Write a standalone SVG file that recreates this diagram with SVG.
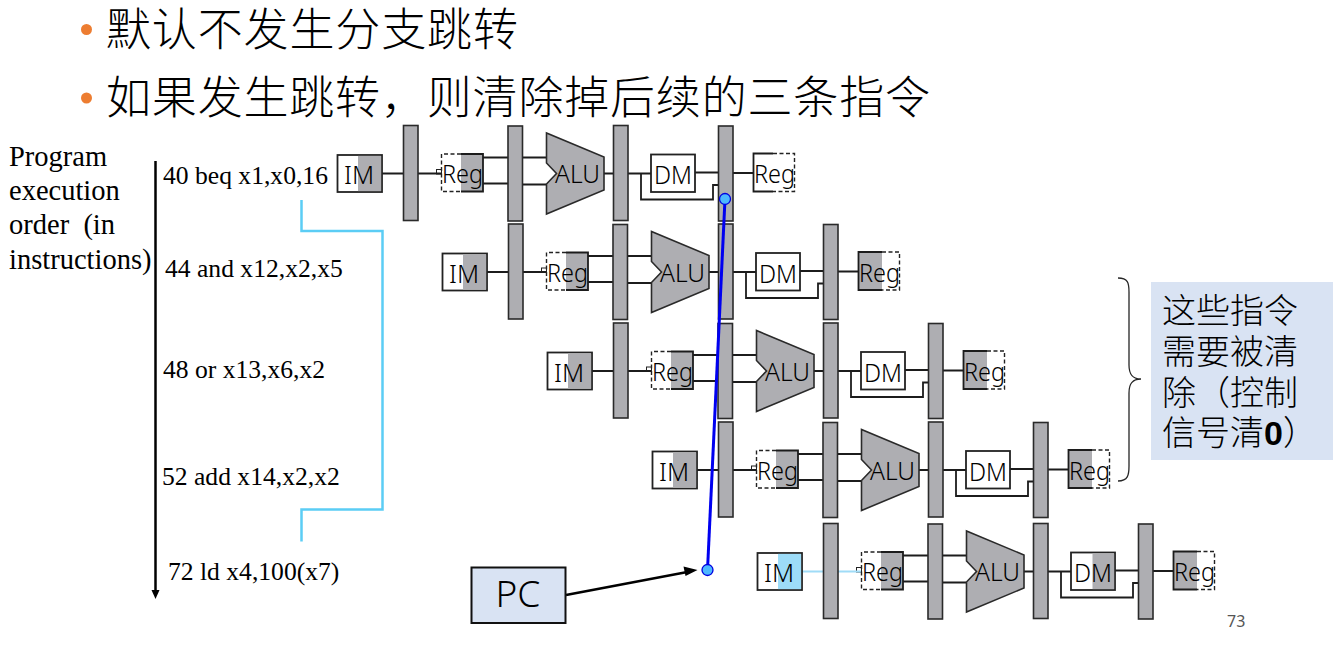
<svg xmlns="http://www.w3.org/2000/svg" width="1333" height="646" viewBox="0 0 1333 646">
<style>
.b{fill:#fff;stroke:#222;stroke-width:1.800}
.g{fill:#aeaeb2}
.lat{fill:#aeaeb2;stroke:#2a2a2a;stroke-width:1.600}
.alu{fill:#aeaeb2;stroke:#2a2a2a;stroke-width:1.600}
.d{fill:none;stroke:#222;stroke-width:1.400;stroke-dasharray:4 2.500}
.w{fill:none;stroke:#1c1c1c;stroke-width:1.800}
.lb{font-family:"Noto Sans","Liberation Sans",sans-serif;font-size:26px;font-weight:300;fill:#000}
.s{font-family:"Liberation Serif",serif;fill:#000}
.i{font-size:25.600px}
.o{font-size:28.500px}
.cn{font-family:"Noto Sans CJK SC",serif;font-size:45px;fill:#000;font-weight:300}
.cb{font-family:"Noto Sans CJK SC",sans-serif;font-size:34px;fill:#000;font-weight:300}
</style>
<defs>
<path id="ifw" class="w" d="M382 173.500H403M418 173.500H441"/>
<g id="wires">
<path class="w" d="M483 157.500H508M522 157.500H546M483 183.500H508M522 184.500H546M604 173.500H614M628 173.500H651M695 172.500H719M641 173.500V199.500H713V185H719M733 173H753"/>
<rect x="436.500" y="169.500" width="5" height="4.500" fill="#fff" stroke="#222" stroke-width="1"/>
</g>
<g id="lat1"><rect class="lat" x="403.500" y="125.500" width="14.500" height="95"/></g>
<g id="lat2"><rect class="lat" x="508" y="126" width="14.500" height="95"/></g>
<g id="lat3"><rect class="lat" x="613.500" y="125.500" width="14.500" height="95"/></g>
<g id="lat4"><rect class="lat" x="718.500" y="126" width="14.500" height="95"/></g>
<g id="aluShape"><path class="alu" d="M546.500 133V163L556.500 173.500L546.500 184V214L604 190V157Z"/><text class="lb" x="555" y="183" textLength="45" lengthAdjust="spacingAndGlyphs">ALU</text></g>
</defs>

<g id="title">
<circle cx="86.500" cy="29.500" r="5.500" fill="#ed7d31"/>
<text class="cn" x="106" y="46" textLength="412">默认不发生分支跳转</text>
<circle cx="86.500" cy="98" r="5.500" fill="#ed7d31"/>
<text class="cn" x="106" y="114" textLength="824">如果发生跳转，则清除掉后续的三条指令</text>
</g>

<g id="order-label" class="s o">
<text x="9" y="166">Program</text>
<text x="9" y="200">execution</text>
<text x="9" y="234" xml:space="preserve">order  (in</text>
<text x="9" y="269">instructions)</text>
</g>

<g id="connectors">
<line x1="155.500" y1="161" x2="155.500" y2="592" stroke="#000" stroke-width="2.500"/>
<path d="M151.500 590H159.500L155.500 599Z" fill="#000"/>
<path d="M301.500 200V231H382.500V509.500H301.500V541.500" fill="none" stroke="#5bcdf5" stroke-width="2.500"/>
<line x1="566" y1="595" x2="690" y2="571.500" stroke="#000" stroke-width="2.500"/>
<path d="M697.500 570L683.500 566.500L685.500 576Z" fill="#000"/>
<path d="M1118 278C1128 278 1129 283 1129 292V365C1129 374 1132 379 1141 379C1132 379 1129 384 1129 393V466C1129 475 1128 481 1118 481" fill="none" stroke="#262626" stroke-width="1.300"/>
</g>

<g id="instr-1"><text class="s i" x="163" y="184">40 beq x1,x0,16</text></g>
<g id="instr-2"><text class="s i" x="165" y="277">44 and x12,x2,x5</text></g>
<g id="instr-3"><text class="s i" x="163" y="378">48 or x13,x6,x2</text></g>
<g id="instr-4"><text class="s i" x="162" y="485">52 add x14,x2,x2</text></g>
<g id="instr-5"><text class="s i" x="168" y="580">72 ld x4,100(x7)</text></g>

<g id="row1">
<use href="#wires"/><use href="#ifw"/>
<g id="r1-im"><rect class="b" x="337.500" y="155" width="44.500" height="37"/><rect class="g" x="358" y="155.900" width="23.100" height="35.200"/><text class="lb" x="344" y="184" textLength="30" lengthAdjust="spacingAndGlyphs">IM</text></g>
<use href="#lat1"/>
<g id="r1-reg"><rect class="g" x="461" y="154" width="22" height="37.500"/><path class="w" d="M461 154H483V191.500H461"/><path class="d" d="M461 154H441.500V191.500H461"/><text class="lb" x="442" y="183" textLength="41" lengthAdjust="spacingAndGlyphs">Reg</text></g>
<use href="#lat2"/>
<use href="#aluShape"/>
<use href="#lat3"/>
<g id="r1-dm"><rect class="b" x="651" y="154.500" width="44" height="37.500"/><text class="lb" x="654" y="184" textLength="38" lengthAdjust="spacingAndGlyphs">DM</text></g>
<use href="#lat4"/>
<g id="r1-wb"><path class="w" d="M773 153.500H753.500V191.500H773"/><path class="d" d="M773 153.500H794.500V191.500H773"/><text class="lb" x="754" y="183" textLength="41" lengthAdjust="spacingAndGlyphs">Reg</text></g>
</g>

<g id="row2" transform="translate(105,98.500)">
<use href="#wires"/><use href="#ifw"/>
<g id="r2-im"><rect class="b" x="337.500" y="155" width="44.500" height="37"/><rect class="g" x="358" y="155.900" width="23.100" height="35.200"/><text class="lb" x="344" y="184" textLength="30" lengthAdjust="spacingAndGlyphs">IM</text></g>
<use href="#lat1"/>
<g id="r2-reg"><rect class="g" x="461" y="154" width="22" height="37.500"/><path class="w" d="M461 154H483V191.500H461"/><path class="d" d="M461 154H441.500V191.500H461"/><text class="lb" x="442" y="183" textLength="41" lengthAdjust="spacingAndGlyphs">Reg</text></g>
<use href="#lat2"/>
<use href="#aluShape"/>
<use href="#lat3"/>
<g id="r2-dm"><rect class="b" x="651" y="154.500" width="44" height="37.500"/><text class="lb" x="654" y="184" textLength="38" lengthAdjust="spacingAndGlyphs">DM</text></g>
<use href="#lat4"/>
<g id="r2-wb"><rect class="g" x="753.500" y="153.500" width="23.500" height="38"/><path class="w" d="M777 153.500H753.500V191.500H777"/><path class="d" d="M777 153.500H794.500V191.500H777"/><text class="lb" x="754" y="183" textLength="41" lengthAdjust="spacingAndGlyphs">Reg</text></g>
</g>

<g id="row3" transform="translate(210,197.500)">
<use href="#wires"/><use href="#ifw"/>
<g id="r3-im"><rect class="b" x="337.500" y="155" width="44.500" height="37"/><rect class="g" x="358" y="155.900" width="23.100" height="35.200"/><text class="lb" x="344" y="184" textLength="30" lengthAdjust="spacingAndGlyphs">IM</text></g>
<use href="#lat1"/>
<g id="r3-reg"><rect class="g" x="461" y="154" width="22" height="37.500"/><path class="w" d="M461 154H483V191.500H461"/><path class="d" d="M461 154H441.500V191.500H461"/><text class="lb" x="442" y="183" textLength="41" lengthAdjust="spacingAndGlyphs">Reg</text></g>
<use href="#lat2"/>
<use href="#aluShape"/>
<use href="#lat3"/>
<g id="r3-dm"><rect class="b" x="651" y="154.500" width="44" height="37.500"/><text class="lb" x="654" y="184" textLength="38" lengthAdjust="spacingAndGlyphs">DM</text></g>
<use href="#lat4"/>
<g id="r3-wb"><rect class="g" x="753.500" y="153.500" width="23.500" height="38"/><path class="w" d="M777 153.500H753.500V191.500H777"/><path class="d" d="M777 153.500H794.500V191.500H777"/><text class="lb" x="754" y="183" textLength="41" lengthAdjust="spacingAndGlyphs">Reg</text></g>
</g>

<g id="row4" transform="translate(315,296.500)">
<use href="#wires"/><use href="#ifw"/>
<g id="r4-im"><rect class="b" x="337.500" y="155" width="44.500" height="37"/><rect class="g" x="358" y="155.900" width="23.100" height="35.200"/><text class="lb" x="344" y="184" textLength="30" lengthAdjust="spacingAndGlyphs">IM</text></g>
<use href="#lat1"/>
<g id="r4-reg"><rect class="g" x="461" y="154" width="22" height="37.500"/><path class="w" d="M461 154H483V191.500H461"/><path class="d" d="M461 154H441.500V191.500H461"/><text class="lb" x="442" y="183" textLength="41" lengthAdjust="spacingAndGlyphs">Reg</text></g>
<use href="#lat2"/>
<use href="#aluShape"/>
<use href="#lat3"/>
<g id="r4-dm"><rect class="b" x="651" y="154.500" width="44" height="37.500"/><text class="lb" x="654" y="184" textLength="38" lengthAdjust="spacingAndGlyphs">DM</text></g>
<use href="#lat4"/>
<g id="r4-wb"><rect class="g" x="753.500" y="153.500" width="23.500" height="38"/><path class="w" d="M777 153.500H753.500V191.500H777"/><path class="d" d="M777 153.500H794.500V191.500H777"/><text class="lb" x="754" y="183" textLength="41" lengthAdjust="spacingAndGlyphs">Reg</text></g>
</g>

<g id="row5" transform="translate(420,398)">
<use href="#wires"/>
<path d="M382 173.500H403M418 173.500H441" stroke="#a0dcf7" stroke-width="2.200" fill="none"/>
<g id="r5-im"><rect class="b" x="337.500" y="155" width="44.500" height="37"/><rect x="358" y="155.900" width="23.100" height="35.200" fill="#9ddcf8"/><text class="lb" x="344" y="184" textLength="30" lengthAdjust="spacingAndGlyphs">IM</text></g>
<use href="#lat1"/>
<g id="r5-reg"><rect class="g" x="461" y="154" width="22" height="37.500"/><path class="w" d="M461 154H483V191.500H461"/><path class="d" d="M461 154H441.500V191.500H461"/><text class="lb" x="442" y="183" textLength="41" lengthAdjust="spacingAndGlyphs">Reg</text></g>
<use href="#lat2"/>
<use href="#aluShape"/>
<use href="#lat3"/>
<g id="r5-dm"><rect class="b" x="651" y="154.500" width="44" height="37.500"/><rect class="g" x="672.500" y="155.400" width="21.600" height="35.700"/><text class="lb" x="654" y="184" textLength="38" lengthAdjust="spacingAndGlyphs">DM</text></g>
<use href="#lat4"/>
<g id="r5-wb"><rect class="g" x="753.500" y="153.500" width="23.500" height="38"/><path class="w" d="M777 153.500H753.500V191.500H777"/><path class="d" d="M777 153.500H794.500V191.500H777"/><text class="lb" x="754" y="183" textLength="41" lengthAdjust="spacingAndGlyphs">Reg</text></g>
</g>

<g id="connector-pc"><line x1="725" y1="199" x2="707.500" y2="570" stroke="#0000f0" stroke-width="3"/></g>
<g id="pc-dot-top"><circle cx="725" cy="199" r="5.500" fill="#4db8ff" stroke="#0000e0" stroke-width="1.300"/></g>
<g id="pc-dot-bottom"><circle cx="707.500" cy="570" r="5.500" fill="#4db8ff" stroke="#0000e0" stroke-width="1.300"/></g>

<g id="pc"><rect x="471.500" y="567.500" width="94" height="55.500" fill="#d9e3f3" stroke="#111" stroke-width="2"/><text x="518" y="607" text-anchor="middle" font-family="Noto Sans,Liberation Sans,sans-serif" font-size="37" font-weight="300" fill="#000">PC</text></g>

<g id="note"><rect x="1151" y="282" width="182" height="178" fill="#d9e3f3"/>
<text class="cb" x="1162" y="323">这些指令</text>
<text class="cb" x="1162" y="364">需要被清</text>
<text class="cb" x="1162" y="405">除（控制</text>
<text class="cb" x="1162" y="445">信号清<tspan font-family="Liberation Sans,sans-serif" font-weight="700">0</tspan>）</text></g>

<g id="page"><text x="1227" y="627" font-family="Noto Sans,Liberation Sans,sans-serif" font-size="16" fill="#555">73</text></g>
</svg>
